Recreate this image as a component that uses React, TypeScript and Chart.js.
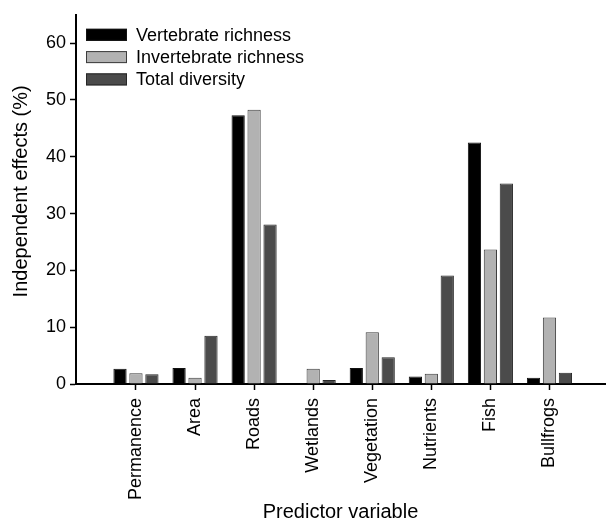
import React, { useEffect, useRef } from "react";
import { Chart, registerables } from "chart.js";

Chart.register(...registerables);

const categories = ["Permanence", "Area", "Roads", "Wetlands", "Vegetation", "Nutrients", "Fish", "Bullfrogs"];
const vertebrateRichness = [2.7, 2.8, 47.3, 0, 2.8, 1.3, 42.5, 1.1];
const invertebrateRichness = [1.9, 1.1, 48.3, 2.7, 9.1, 1.8, 23.7, 11.7];
const totalDiversity = [1.7, 8.5, 28.1, 0.7, 4.7, 19.1, 35.3, 2.0];
const seriesNames = ["Vertebrate richness", "Invertebrate richness", "Total diversity"];
const yTickValues = [0, 10, 20, 30, 40, 50, 60];
const yTitle = "Independent effects (%)";
const xTitle = "Predictor variable";

const FAMILY = "'Liberation Sans', Arial, Helvetica, sans-serif";

const insideLegend = {
  id: "insideLegend",
  afterDraw(chart: any) {
    const ctx = chart.ctx;
    const area = chart.chartArea;
    ctx.save();
    ctx.font = `18px ${FAMILY}`;
    ctx.textBaseline = "alphabetic";
    ctx.textAlign = "left";
    chart.data.datasets.forEach((ds: any, i: number) => {
      const x = area.left + 10;
      const y = area.top + 14 + i * 22.3;
      ctx.fillStyle = ds.backgroundColor;
      ctx.fillRect(x, y, 41, 12);
      ctx.strokeStyle = ds.borderColor;
      ctx.lineWidth = 1;
      ctx.strokeRect(x + 0.5, y + 0.5, 40, 11);
      ctx.fillStyle = "#000";
      ctx.fillText(ds.label, x + 50, y + 12);
    });
    // y-axis title, slightly above the axis centre as in the reference
    ctx.translate(21, (area.top + area.bottom) / 2 - 8);
    ctx.rotate(-Math.PI / 2);
    ctx.font = `20px ${FAMILY}`;
    ctx.textAlign = "center";
    ctx.textBaseline = "middle";
    ctx.fillText(yTitle, 0, 0);
    ctx.restore();
  },
};

export default function App() {
  const canvasRef = useRef<HTMLCanvasElement | null>(null);

  useEffect(() => {
    const canvas = canvasRef.current;
    if (!canvas) return;
    const toPoints = (arr: number[]) => arr.map((v, i) => ({ x: i, y: v }));
    const chart = new Chart(canvas, {
      type: "bar",
      data: {
        datasets: [
          {
            label: seriesNames[0],
            data: toPoints(vertebrateRichness),
            backgroundColor: "#000000",
            borderColor: "#111111",
            borderWidth: 1,
          },
          {
            label: seriesNames[1],
            data: toPoints(invertebrateRichness),
            backgroundColor: "#b2b2b2",
            borderColor: "#3c3c3c",
            borderWidth: 1,
          },
          {
            label: seriesNames[2],
            data: toPoints(totalDiversity),
            backgroundColor: "#4b4b4b",
            borderColor: "#262626",
            borderWidth: 1,
          },
        ],
      },
      options: {
        responsive: false,
        animation: false,
        devicePixelRatio: 1,
        layout: { padding: { top: 12, right: 2, left: 0, bottom: 0 } },
        datasets: { bar: { categoryPercentage: 0.81, barPercentage: 0.83 } },
        plugins: {
          legend: { display: false },
          tooltip: { enabled: false },
          title: { display: false },
        },
        scales: {
          x: {
            type: "linear",
            offset: false,
            min: -1.015,
            max: 7.94,
            afterBuildTicks: (axis: any) => {
              axis.ticks = categories.map((_, i) => ({ value: i }));
            },
            afterFit: (s: any) => {
              s.height = 141;
            },
            ticks: {
              autoSkip: false,
              minRotation: 90,
              maxRotation: 90,
              padding: 8,
              color: "#000",
              font: { family: FAMILY, size: 18 },
              callback: (v: any) => categories[Math.round(Number(v))] ?? "",
            },
            grid: {
              display: true,
              offset: false,
              drawOnChartArea: false,
              drawTicks: true,
              tickLength: 6,
              tickColor: "#000",
              tickWidth: 1.5,
            },
            border: { display: true, color: "#000", width: 2 },
            title: {
              display: true,
              text: xTitle,
              color: "#000",
              font: { family: FAMILY, size: 20 },
              padding: { top: 4, bottom: 1 },
            },
          },
          y: {
            type: "linear",
            min: 0,
            max: 65,
            afterBuildTicks: (axis: any) => {
              axis.ticks = yTickValues.map((v) => ({ value: v }));
            },
            afterFit: (s: any) => {
              s.width = 76;
            },
            ticks: {
              padding: 4,
              color: "#000",
              font: { family: FAMILY, size: 18 },
            },
            grid: {
              display: true,
              drawOnChartArea: false,
              drawTicks: true,
              tickLength: 6,
              tickColor: "#000",
              tickWidth: 1.5,
            },
            border: { display: true, color: "#000", width: 2 },
            title: { display: false },
          },
        },
      },
      plugins: [insideLegend],
    } as any);
    return () => chart.destroy();
  }, []);

  return (
    <div style={{ position: "fixed", left: 0, top: 0, width: 607, height: 525, background: "#fff" }}>
      <canvas ref={canvasRef} width={607} height={525} style={{ display: "block", width: 607, height: 525 }} />
    </div>
  );
}
